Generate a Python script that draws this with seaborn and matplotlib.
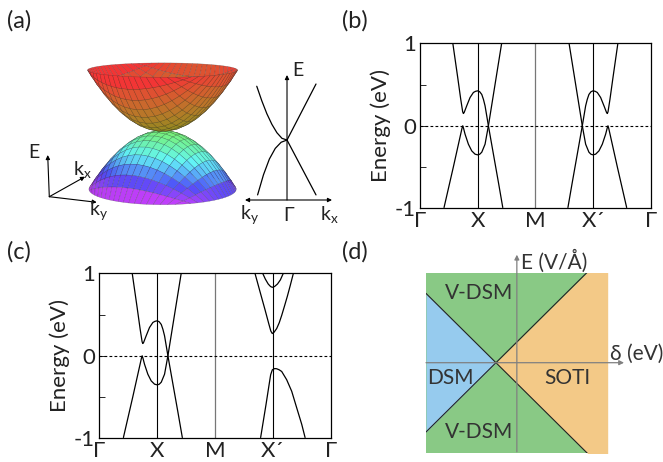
import numpy as np
import matplotlib
matplotlib.use("Agg")
import matplotlib.pyplot as plt
from matplotlib.colors import hsv_to_rgb
from matplotlib.patches import FancyArrowPatch
import seaborn as sns

sns.set_style("white")
plt.rcParams['font.family'] = ['Lato', 'DejaVu Sans']
plt.rcParams['text.color'] = '#222222'

W, H = 663, 462

# ---- data -------------------------------------------------------------
# k-path for panels (b) and (c)
kpath_ticks = [0, 1, 2, 3, 4]
kpath_labels = ["Γ", "X", "M", "X´", "Γ"]

# bands around X (same in b and c)
k_up_x = [0.567, 0.654, 0.706, 0.740, 0.752, 0.765, 0.810, 0.868, 0.926, 0.963, 1.0,
          1.035, 1.071, 1.10, 1.128, 1.186, 1.273, 1.360, 1.435]
e_up_x = [1.01, 0.585, 0.323, 0.170, 0.149, 0.160, 0.242, 0.343, 0.404, 0.418, 0.424,
          0.413, 0.380, 0.320, 0.242, 0.0, -0.344, -0.687, -0.99]
k_lo_x = [0.417, 0.579, 0.728, 0.741, 0.755, 0.781, 0.839, 0.897, 0.955, 1.0,
          1.035, 1.071, 1.128, 1.186, 1.302, 1.418]
e_lo_x = [-0.99, -0.497, -0.03, 0.0, -0.03, -0.101, -0.223, -0.304, -0.344, -0.352,
          -0.345, -0.320, -0.223, 0.0, 0.505, 1.01]

# bands around X' in panel (c)
k_c_outer = [2.691, 2.777, 2.864, 2.933, 2.965, 2.99, 3.02, 3.066, 3.11, 3.153, 3.20,
             3.25, 3.30, 3.355]
e_c_outer = [1.0, 0.78, 0.56, 0.38, 0.30, 0.27, 0.285, 0.33, 0.40, 0.49, 0.60,
             0.72, 0.85, 1.0]
k_c_inner = [2.824, 2.87, 2.92, 2.96, 2.99, 3.03, 3.08, 3.13, 3.181]
e_c_inner = [1.0, 0.93, 0.87, 0.84, 0.83, 0.84, 0.87, 0.92, 1.0]
k_c_val = [2.789, 2.882, 2.935, 2.962, 2.991, 3.03, 3.066, 3.11, 3.153, 3.239, 3.326,
           3.412, 3.499, 3.557]
e_c_val = [-0.99, -0.59, -0.35, -0.23, -0.17, -0.155, -0.157, -0.17, -0.19, -0.29,
           -0.43, -0.63, -0.83, -0.99]

# sketch in (a): quadratic along ky, linear along kx
ky_up = [-0.72, -0.60, -0.48, -0.36, -0.24, -0.12, 0.0]
e_ky_up = [0.96, 0.70, 0.47, 0.28, 0.13, 0.03, 0.0]
ky_lo = [-0.70, -0.56, -0.42, -0.28, -0.14, 0.0]
e_ky_lo = [-0.98, -0.62, -0.34, -0.15, -0.04, 0.0]
kx_line = [0.0, 0.69]
e_kx_up = [0.0, 1.0]
e_kx_lo = [0.0, -0.98]

# phase diagram (d)
delta_pts = [-1.0, -0.23, 1.0]
boundary = [0.77, 0.0, 1.23]

c_green = "#89c985"
c_blue = "#96cbee"
c_orange = "#f3c987"


def fx(x):
    return x / W


def fy(y):
    return 1 - y / H


fig = plt.figure(figsize=(W / 100, H / 100), dpi=100)


def band_axes(rect):
    ax = fig.add_axes(rect)
    ax.set_xlim(0, 4)
    ax.set_ylim(-1, 1)
    for k in [1, 3]:
        ax.axvline(k, color="k", lw=0.8)
    ax.axvline(2, color="#777777", lw=0.9)
    ax.axhline(0, color="k", lw=0.8, ls=(0, (2.5, 2)))
    ax.set_xticks(kpath_ticks)
    ax.set_xticklabels(kpath_labels)
    ax.set_yticks([-1, 0, 1])
    ax.set_yticklabels(["-1", "0", "1"])
    ax.set_yticks([-0.5, 0.5], minor=True)
    ax.tick_params(axis="x", length=0, pad=2, labelsize=16, labelcolor="#222222")
    ax.tick_params(axis="y", which="both", direction="in", length=4, width=0.7,
                   pad=3, labelsize=16, left=True, labelcolor="#222222")
    ax.set_ylabel("Energy (eV)", fontsize=16, color="#222222")
    ax.yaxis.set_label_coords(-0.125, 0.5)
    for s in ax.spines.values():
        s.set_linewidth(0.9)
        s.set_color("k")
    return ax


def draw(ax, k, e):
    sns.lineplot(x=k, y=e, ax=ax, sort=False, estimator=None, color="k", lw=0.9)


# ---- panel (b) ----
ax_b = band_axes([fx(420), fy(208.3), fx(230.7), 165 / H])
draw(ax_b, k_up_x, e_up_x)
draw(ax_b, k_lo_x, e_lo_x)
# X' valley is the mirror image (about M) of the X valley
draw(ax_b, 4 - np.array(k_up_x), e_up_x)
draw(ax_b, 4 - np.array(k_lo_x), e_lo_x)

# ---- panel (c) ----
ax_c = band_axes([fx(99.3), fy(438.3), fx(231.4), 165 / H])
draw(ax_c, k_up_x, e_up_x)
draw(ax_c, k_lo_x, e_lo_x)
draw(ax_c, k_c_outer, e_c_outer)
draw(ax_c, k_c_inner, e_c_inner)
draw(ax_c, k_c_val, e_c_val)

# ---- panel (d) ----
ax_d = fig.add_axes([fx(426), fy(452.7), fx(181.7), 180 / H])
ax_d.set_facecolor(c_green)
d = np.array(delta_pts)
b = np.array(boundary)
ax_d.fill_between(d[:2], -b[:2], b[:2], color=c_blue, lw=0)
ax_d.fill_between(d[1:], -b[1:], b[1:], color=c_orange, lw=0)
ax_d.plot(d, b, color="#222222", lw=0.8)
ax_d.plot(d, -b, color="#222222", lw=0.8)
ax_d.set_xlim(-1, 1)
ax_d.set_ylim(-1, 1)
ax_d.set_xticks([])
ax_d.set_yticks([])
for s in ax_d.spines.values():
    s.set_visible(False)
arr = dict(arrowstyle="-|>", color="#808080", lw=0.9, mutation_scale=7,
           shrinkA=0, shrinkB=0)
ax_d.annotate("", xy=(0, 1.2), xytext=(0, -0.99), arrowprops=arr, annotation_clip=False)
ax_d.annotate("", xy=(1.18, 0), xytext=(-1.0, 0), arrowprops=arr, annotation_clip=False)
tc = "#333333"
dkw = dict(fontsize=15, color=tc, va="center")
ax_d.text(-0.417, 0.77, "V-DSM", ha="center", **dkw)
ax_d.text(-0.417, -0.77, "V-DSM", ha="center", **dkw)
ax_d.text(-0.736, -0.17, "DSM", ha="center", **dkw)
ax_d.text(0.552, -0.17, "SOTI", ha="center", **dkw)
ax_d.text(0.05, 1.13, "E (V/Å)", ha="left", clip_on=False, **dkw)
ax_d.text(1.03, 0.10, "δ (eV)", ha="left", clip_on=False, **dkw)

# ---- panel (a): 3D bands ----
ax3 = fig.add_axes([fx(55), fy(230), fx(210), 190 / H], projection="3d")
n = 19
u = np.linspace(-1, 1, n)
U, V = np.meshgrid(u, u)
Xd = U * np.sqrt(1 - V ** 2 / 2)
Yd = V * np.sqrt(1 - U ** 2 / 2)
Zu = Xd ** 2 + Yd ** 2
Zl = -(Xd ** 2 + Yd ** 2) * 0.95

tu = Zu / Zu.max()
cu = hsv_to_rgb(np.dstack([0.16 * (1 - tu), np.full_like(tu, 0.78), 0.55 + 0.4 * tu]))
tl = Zl / Zl.min()
# slightly darker towards the left-front side, as in the rendering
side = 0.08 * (Xd - Yd) / 2
cl = hsv_to_rgb(np.dstack([0.33 + 0.45 * tl, 0.5 + 0.25 * tl,
                           np.clip(0.93 + side, 0, 1)]))
ax3.plot_surface(Xd, Yd, Zl, facecolors=cl, rstride=1, cstride=1, shade=False,
                 edgecolor=(0.15, 0.15, 0.15, 0.4), linewidth=0.3, antialiased=True)
ax3.plot_surface(Xd, Yd, Zu, facecolors=cu, rstride=1, cstride=1, shade=False,
                 edgecolor=(0.15, 0.15, 0.15, 0.4), linewidth=0.3, antialiased=True)
ax3.view_init(elev=9, azim=-60)
ax3.set_xlim(-1, 1)
ax3.set_ylim(-1, 1)
ax3.set_zlim(-1.05, 1.0)
ax3.set_box_aspect((1, 1, 0.85), zoom=1.25)
ax3.set_axis_off()

# ---- panel (a): small coordinate frame ----
ka = dict(arrowstyle="-|>", color="k", lw=0.8, mutation_scale=6, shrinkA=0, shrinkB=0)
o = (fx(49.3), fy(196.7))
for tip in [(47.7, 155), (85, 176.7), (96.7, 202.3)]:
    fig.add_artist(FancyArrowPatch(o, (fx(tip[0]), fy(tip[1])),
                                   transform=fig.transFigure, **ka))
fig.text(fx(34), fy(153), "E", ha="center", va="center", fontsize=14)
fig.text(fx(82), fy(170), r"k$_\mathregular{x}$", ha="center", va="center", fontsize=14,
         zorder=5)
fig.text(fx(99), fy(211), r"k$_\mathregular{y}$", ha="center", va="center", fontsize=14)

# ---- panel (a): dispersion sketch ----
ax_s = fig.add_axes([fx(245), fy(200), fx(87), 125 / H])
ax_s.set_xlim(-1, 1.071)
ax_s.set_ylim(-1.071, 1.161)
ax_s.set_axis_off()
for kk, ee in [(ky_up, e_ky_up), (ky_lo, e_ky_lo), (kx_line, e_kx_up), (kx_line, e_kx_lo)]:
    sns.lineplot(x=kk, y=ee, ax=ax_s, sort=False, estimator=None, color="k", lw=0.9)
ax_s.annotate("", xy=(0, 1.161), xytext=(0, -1.071), arrowprops=ka, annotation_clip=False)
ax_s.annotate("", xy=(1.071, -1.071), xytext=(-1, -1.071),
              arrowprops=dict(arrowstyle="<|-|>", color="k", lw=0.8, mutation_scale=6,
                              shrinkA=0, shrinkB=0), annotation_clip=False)
fig.text(fx(298), fy(71), "E", ha="center", va="center", fontsize=14)
fig.text(fx(250), fy(215), r"k$_\mathregular{y}$", ha="center", va="center", fontsize=14)
fig.text(fx(289), fy(215), "Γ", ha="center", va="center", fontsize=14)
fig.text(fx(329), fy(215), r"k$_\mathregular{x}$", ha="center", va="center", fontsize=14)

# ---- panel labels ----
for lab, x, y in [("(a)", 7, 21), ("(b)", 342, 21), ("(c)", 7, 252), ("(d)", 342, 252)]:
    fig.text(fx(x), fy(y), lab, ha="left", va="center", fontsize=17)

fig.savefig("out.png", dpi=100)
